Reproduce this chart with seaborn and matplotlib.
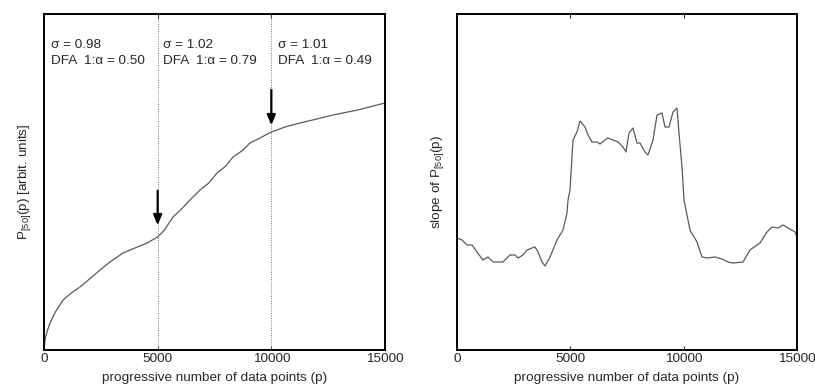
import numpy as np
import pandas as pd
import matplotlib
matplotlib.use("Agg")
import matplotlib.pyplot as plt
import seaborn as sns

# Left panel: cumulative quantity P_[50](p)
p_left = [0, 60, 130, 264, 500, 836, 1200, 1584, 2000, 2464, 2900, 3475, 4000,
          4531, 5000, 5300, 5675, 6050, 6423, 6863, 7250, 7611, 8000, 8315,
          8700, 9063, 9500, 10000, 10600, 11263, 12000, 12715, 13800, 15000]
P_left = [2, 12, 18, 27, 38, 50, 57, 63, 71, 80, 88, 97, 102,
          107, 113, 120, 133, 141, 150, 160, 167, 177, 184, 193,
          199, 207, 212, 218, 223, 227, 231, 235, 240, 247]

# Right panel: slope of P_[50](p)
p_right = [0, 221, 441, 662, 882, 1147, 1368, 1588, 2029, 2338, 2559, 2691, 2912,
           3088, 3309, 3441, 3574, 3750, 3882, 4103, 4412, 4676, 4853, 4897,
           4985, 5118, 5294, 5426, 5647, 5779, 5956, 6176, 6309, 6529, 6662,
           6882, 7103, 7324, 7456, 7588, 7765, 7941, 8074, 8294, 8426, 8647,
           8824, 9044, 9176, 9353, 9529, 9706, 9794, 9927, 10015, 10279, 10588,
           10809, 11029, 11382, 11691, 11956, 12176, 12618, 12926, 13235, 13368,
           13676, 13897, 14162, 14382, 14691, 14912, 15000]
S_right = [112, 110, 105, 105, 98, 90, 93, 88, 88, 95, 95, 92, 95,
           100, 102, 103, 98, 88, 84, 93, 110, 120, 137, 150,
           160, 210, 218, 229, 223, 215, 208, 208, 206, 210, 212,
           210, 208, 203, 198, 217, 222, 207, 207, 198, 195, 210,
           235, 237, 223, 223, 238, 242, 217, 183, 150, 120, 108,
           93, 92, 93, 91, 88, 87, 88, 100, 105, 107,
           118, 123, 122, 125, 121, 118, 113]

x_ticks = [0, 5000, 10000, 15000]
breaks = [5000, 10000]
annot_x = [310, 5235, 10300]
annot_text = ["σ = 0.98\nDFA  1:α = 0.50",
              "σ = 1.02\nDFA  1:α = 0.79",
              "σ = 1.01\nDFA  1:α = 0.49"]

FS = 9.7

sns.set_style("ticks", {"xtick.direction": "in", "ytick.direction": "in"})
plt.rcParams['font.family'] = ['Liberation Sans', 'DejaVu Sans']
plt.rcParams['mathtext.fontset'] = 'custom'
plt.rcParams['mathtext.rm'] = 'Liberation Sans'
plt.rcParams['mathtext.it'] = 'Liberation Sans'

fig = plt.figure(figsize=(8.15, 3.85), dpi=100)
ax1 = fig.add_axes([44/815, 1-350/385, (385-44)/815, 336/385])
ax2 = fig.add_axes([457/815, 1-350/385, (797-457)/815, 336/385])

df_l = pd.DataFrame({"p": p_left, "P": P_left})
df_r = pd.DataFrame({"p": p_right, "S": S_right})

sns.lineplot(data=df_l, x="p", y="P", ax=ax1, color="#5a5a5a", lw=0.9)
sns.lineplot(data=df_r, x="p", y="S", ax=ax2, color="#5a5a5a", lw=0.9)

for ax in (ax1, ax2):
    ax.set_xlim(0, 15000)
    ax.set_ylim(0, 336)
    ax.set_xticks(x_ticks)
    ax.set_xticklabels([str(t) for t in x_ticks], fontsize=FS)
    ax.set_yticks([])
    ax.tick_params(axis='x', top=True, direction='in', length=3, width=0.8, pad=2)
    for s in ax.spines.values():
        s.set_linewidth(1.4)
        s.set_color("black")
    ax.set_xlabel("progressive number of data points (p)", fontsize=FS, labelpad=5)

for b in breaks:
    ax1.axvline(b, color="#777777", ls=(0, (1, 1.5)), lw=0.7)

for xa, t in zip(annot_x, annot_text):
    ax1.text(xa, 311, t, fontsize=FS, va='top', ha='left', linespacing=1.5)

# arrows pointing at the change points
arrow_specs = [(5000, 162, 122), (10000, 263, 222)]
for xa, ys, ye in arrow_specs:
    ax1.annotate("", xy=(xa, ye), xytext=(xa, ys),
                 arrowprops=dict(arrowstyle="-|>,head_width=0.25,head_length=0.6",
                                 color="black", lw=1.6))

ax1.set_ylabel("P$_{[50]}$(p) [arbit. units]", fontsize=FS, labelpad=8)
ax2.set_ylabel("slope of P$_{[50]}$(p)", fontsize=FS, labelpad=8)

fig.savefig("out.png", dpi=100)
